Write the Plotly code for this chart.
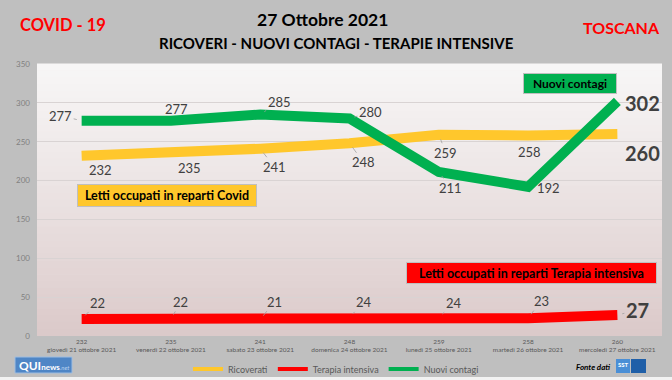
import plotly.graph_objects as go

# ---------------- data ----------------
dates = ["giovedì 21 ottobre 2021", "venerdì 22 ottobre 2021", "sabato 23 ottobre 2021",
         "domenica 24 ottobre 2021", "lunedì 25 ottobre 2021", "martedì 26 ottobre 2021",
         "mercoledì 27 ottobre 2021"]
ricoverati = [232, 235, 241, 248, 259, 258, 260]
terapia = [22, 22, 21, 24, 24, 23, 27]
contagi = [277, 277, 285, 280, 211, 192, 302]
y_ticks = [0, 50, 100, 150, 200, 250, 300, 350]

# ---------------- style ----------------
FONT = "Lato"
C_YEL = "#ffc72c"
C_RED = "#ff0000"
C_GRN = "#00b050"
W, H = 672, 380
L, R, T, B = 37, 662, 64, 336   # plot area in px


def px_x(x):
    return (x - L) / (R - L)


def px_y(y):
    return (B - y) / (B - T)


fig = go.Figure()

ticktext = [f"{r}<br>{d}" for r, d in zip(ricoverati, dates)]

# main lines
for name, vals, col in [("Ricoverati", ricoverati, C_YEL),
                        ("Terapia intensiva", terapia, C_RED),
                        ("Nuovi contagi", contagi, C_GRN)]:
    fig.add_trace(go.Scatter(x=dates, y=vals, mode="lines", name=name,
                             line=dict(color=col, width=10), showlegend=False,
                             hoverinfo="skip"))
# legend-only entries (thinner symbol)
for name, col in [("Ricoverati", C_YEL), ("Terapia intensiva", C_RED), ("Nuovi contagi", C_GRN)]:
    fig.add_trace(go.Scatter(x=[None], y=[None], mode="lines", name=name,
                             line=dict(color=col, width=4), showlegend=True))

# ---------------- data labels ----------------
annotations = []
contagi_off = [(-21, -5), (6, -12), (19, -13), (21, -6), (12, 16), (20, 1), (25, 2)]
contagi_lead = [True, False, True, True, True, False, False]
ric_off = [(19, 14), (19, 15), (14, 18), (14, 19), (7, 18), (1, 16), (25, 19)]
ric_lead = [False, False, True, True, True, False, False]
ter_off = [(16, -16), (10, -17), (14, -18), (14, -15), (15, -14), (13, -17), (20, -5)]
ter_lead = [True, True, True, True, True, True, True]

for vals, offs, leads in [(contagi, contagi_off, contagi_lead),
                          (ricoverati, ric_off, ric_lead),
                          (terapia, ter_off, ter_lead)]:
    n = len(vals)
    for i, (v, (ox, oy), ld) in enumerate(zip(vals, offs, leads)):
        last = i == n - 1
        annotations.append(dict(
            x=dates[i], y=v, xref="x", yref="y",
            text=f"<b>{v}</b>" if last else str(v),
            showarrow=True, ax=ox, ay=oy, arrowhead=0, arrowwidth=0.8,
            arrowcolor="#a0a0a0" if ld else "rgba(0,0,0,0)", standoff=5,
            font=dict(family=FONT, size=20 if last else 13, color="#404040"),
        ))

# ---------------- text boxes ----------------
def box(text, x0, x1, y0, y1, fill, size=11):
    return dict(x=px_x((x0 + x1) / 2), y=px_y((y0 + y1) / 2), xref="paper", yref="paper",
                text=f"<b>{text}</b>", showarrow=False, xanchor="center", yanchor="middle",
                width=x1 - x0 - 4, height=y1 - y0 - 4, borderpad=1,
                bgcolor=fill, bordercolor="#bfbfbf", borderwidth=1,
                font=dict(family=FONT, size=size, color="#000000"))


annotations.append(box("Nuovi contagi", 523, 617, 73, 94, C_GRN, 12))
annotations.append(box("Letti occupati in reparti Covid", 77, 257, 184, 207, C_YEL, 12.5))
annotations.append(box("Letti occupati in reparti Terapia intensiva", 406, 657, 262, 284, C_RED, 12.5))

# ---------------- titles ----------------
def txt(text, x, y, size, color, bold=True, italic=False):
    t = f"<b>{text}</b>" if bold else text
    if italic:
        t = f"<i>{t}</i>"
    return dict(x=px_x(x), y=px_y(y), xref="paper", yref="paper", text=t, showarrow=False,
                xanchor="center", yanchor="middle",
                font=dict(family=FONT, size=size, color=color))


annotations.append(txt("27 Ottobre 2021", 322, 20, 17.5, "#000000"))
annotations.append(txt("RICOVERI - NUOVI CONTAGI - TERAPIE INTENSIVE", 336, 43, 15, "#000000"))
annotations.append(txt("COVID - 19", 63, 25, 16.5, "#ff0000"))
annotations.append(txt("TOSCANA", 621, 27, 16, "#ff0000"))
annotations.append(txt("Fonte dati", 593, 367, 8, "#000000", bold=True, italic=True))
annotations.append(dict(x=px_x(17), y=px_y(365), xref="paper", yref="paper",
                        text="<b>QUI</b><b><span style='font-size:8px'>news</span></b><i><span style='font-size:6px;color:#b9d3f0'>.net</span></i>",
                        showarrow=False, xanchor="left", yanchor="middle",
                        font=dict(family=FONT, size=12, color="#ffffff")))
annotations.append(txt("SST", 623, 364, 6, "#ffffff"))

# ---------------- shapes ----------------
shapes = []
# gradient plot background
N = 40
top = (247, 246, 246)
bot = (219, 201, 201)
for k in range(N):
    t0 = k / N
    t1 = (k + 1) / N
    tm = ((k + 0.5) / N) ** 1.15
    c = tuple(int(round(top[j] + (bot[j] - top[j]) * tm)) for j in range(3))
    shapes.append(dict(type="rect", xref="paper", yref="paper", x0=0, x1=1,
                       y0=1 - t1, y1=1 - t0 + 0.002, fillcolor=f"rgb{c}",
                       line=dict(width=0), layer="below"))
# QUI news logo
shapes.append(dict(type="rect", xref="paper", yref="paper", x0=px_x(15), x1=px_x(72),
                   y0=px_y(373), y1=px_y(357), fillcolor="#4f86c6",
                   line=dict(color="#9fbde0", width=1), layer="below"))
# SST logo
shapes.append(dict(type="rect", xref="paper", yref="paper", x0=px_x(616), x1=px_x(630),
                   y0=px_y(373), y1=px_y(359), fillcolor="#4a8fd6",
                   line=dict(width=0), layer="below"))
shapes.append(dict(type="rect", xref="paper", yref="paper", x0=px_x(631), x1=px_x(646),
                   y0=px_y(373), y1=px_y(359), fillcolor="#1f5fa8",
                   line=dict(width=0), layer="below"))
# bottom light strip
shapes.append(dict(type="rect", xref="paper", yref="paper", x0=px_x(0), x1=px_x(W),
                   y0=px_y(H), y1=px_y(377), fillcolor="#f2f2f2",
                   line=dict(width=0), layer="below"))

fig.update_layout(
    width=W, height=H,
    margin=dict(l=L, r=W - R, t=T, b=H - B, pad=0, autoexpand=False),
    paper_bgcolor="#bfbfbf",
    plot_bgcolor="#eee6e6",
    font=dict(family=FONT, color="#595959"),
    showlegend=True,
    legend=dict(orientation="h", x=px_x(336), y=px_y(369), xanchor="center", yanchor="middle",
                bgcolor="rgba(0,0,0,0)", font=dict(family=FONT, size=9, color="#595959"),
                itemwidth=30, tracegroupgap=0),
    annotations=annotations,
    shapes=shapes,
    xaxis=dict(type="category", categoryorder="array", categoryarray=dates,
               range=[-0.5, len(dates) - 0.5],
               tickvals=dates, ticktext=ticktext, showgrid=False, zeroline=False,
               showline=False, ticks="", tickangle=0, automargin=False,
               tickfont=dict(family=FONT, size=6.5, color="#595959")),
    yaxis=dict(range=[0, 350], tickvals=y_ticks, showgrid=True, gridcolor="#d9d3d3",
               gridwidth=1, zeroline=False, showline=False, ticks="", automargin=False,
               ticklabelstandoff=6,
               tickfont=dict(family=FONT, size=8, color="#7f7f7f")),
)

fig.write_html("out.html", config={"displayModeBar": False},
               post_script="document.body.style.margin='0';document.body.style.overflow='hidden';")
